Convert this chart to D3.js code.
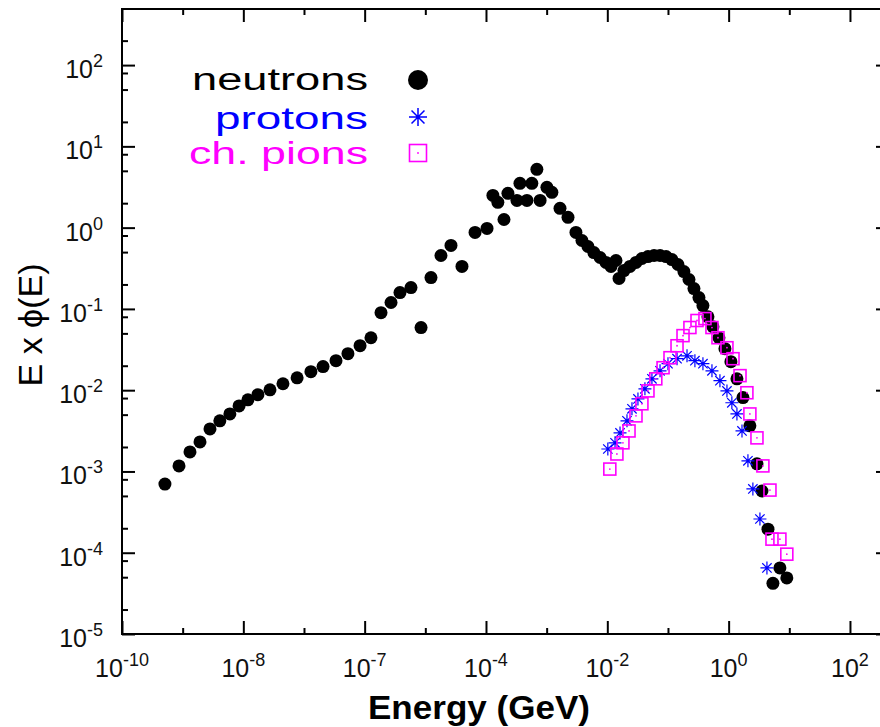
<!DOCTYPE html>
<html>
<head>
<meta charset="utf-8">
<script src="https://cdn.jsdelivr.net/npm/d3@7"></script>
<style>
body { margin: 0; background: #fff; }
svg text { font-family: "Liberation Sans", Arial, Helvetica, sans-serif; }
</style>
</head>
<body>
<svg id="chart" width="880" height="727"></svg>
<script>
// values: [energy in GeV, E x phi(E)]
var neutrons = [
  [5.1e-10,7.0e-4],[8.7e-10,1.17e-3],[1.32e-9,1.74e-3],[1.93e-9,2.31e-3],[2.82e-9,3.34e-3],
  [4.1e-9,4.2e-3],[6.0e-9,5.1e-3],[8.5e-9,6.4e-3],[1.19e-8,7.6e-3],[1.74e-8,8.8e-3],
  [2.75e-8,1.01e-2],[4.5e-8,1.20e-2],[7.7e-8,1.42e-2],[1.30e-7,1.69e-2],[2.06e-7,1.95e-2],
  [3.37e-7,2.31e-2],[5.3e-7,2.81e-2],[8.4e-7,3.53e-2],[1.27e-6,4.42e-2],[1.86e-6,9.0e-2],
  [2.72e-6,0.120],[3.82e-6,0.159],[5.8e-6,0.183],[8.5e-6,5.9e-2],[1.24e-5,0.243],
  [1.81e-5,0.454],[2.65e-5,0.604],[4.02e-5,0.333],[6.6e-5,0.873],[1.04e-4,0.977],
  [1.30e-4,2.49],[1.57e-4,2.05],[1.98e-4,1.26],[2.30e-4,2.64],[3.24e-4,2.16],
  [3.63e-4,3.51],[4.73e-4,2.16],[5.7e-4,3.51],[6.9e-4,5.22],[7.8e-4,2.16],
  [1.01e-3,3.13],[1.22e-3,2.72],[1.66e-3,1.73],[2.25e-3,1.34],[3.04e-3,0.873],
  [3.82e-3,0.695],[4.8e-3,0.586],[6.0e-3,0.494],[7.6e-3,0.429],[9.5e-3,0.373],
  [1.15e-2,0.333],[1.39e-2,0.394],[1.56e-2,0.237],[1.88e-2,0.296],[2.36e-2,0.333],
  [2.97e-2,0.373],[3.72e-2,0.417],[4.68e-2,0.441],[5.9e-2,0.454],[7.4e-2,0.454],
  [9.3e-2,0.441],[0.116,0.405],[0.146,0.352],[0.183,0.288],[0.222,0.230],
  [0.268,0.178],[0.324,0.138],[0.377,0.110],[0.456,8.0e-2],[0.551,6.05e-2],
  [0.692,4.42e-2],[0.869,3.24e-2],[1.09,2.24e-2],[1.37,1.38e-2],[1.72,8.1e-3],
  [2.24,3.64e-3],[2.93,1.24e-3],[3.54,5.75e-4],[4.45,1.95e-4],[5.37,4.2e-5],
  [7.0,6.5e-5],[9.1,4.9e-5]
];

var protons = [
  [1.02e-2,1.89e-3],[1.34e-2,2.25e-3],[1.62e-2,2.98e-3],[2.11e-2,4.2e-3],[2.55e-2,5.9e-3],
  [3.20e-2,7.8e-3],[4.17e-2,1.04e-2],[5.44e-2,1.38e-2],[7.4e-2,1.73e-2],[0.100,2.12e-2],
  [0.141,2.44e-2],[0.206,2.65e-2],[0.278,2.31e-2],[0.377,2.12e-2],[0.531,1.73e-2],
  [0.719,1.31e-2],[0.938,9.8e-3],[1.13,7.0e-3],[1.37,5.1e-3],[1.66,3.15e-3],
  [2.08,1.35e-3],[2.51,6.1e-4],[3.28,2.6e-4],[4.28,6.5e-5]
];

var pions = [
  [1.10e-2,1.07e-3],[1.44e-2,1.64e-3],[1.81e-2,2.25e-3],[2.28e-2,3.15e-3],[2.97e-2,4.83e-3],
  [3.72e-2,6.8e-3],[4.68e-2,9.8e-3],[6.3e-2,1.38e-2],[8.3e-2,1.89e-2],[0.108,2.51e-2],
  [0.141,3.52e-2],[0.177,4.69e-2],[0.230,5.9e-2],[0.301,7.2e-2],[0.407,7.6e-2],
  [0.531,5.9e-2],[0.667,4.42e-2],[0.938,3.33e-2],[1.18,2.44e-2],[1.54,1.51e-2],
  [2.00,9.3e-3],[2.24,5.1e-3],[2.93,2.59e-3],[3.67,1.17e-3],[4.80,5.9e-4],
  [5.18,1.47e-4],[7.0,1.47e-4],[9.1,9.6e-5]
];

// tick labels as printed (the third one really says 10^-7)
var xTickVals = [1e-10, 1e-8, 1e-6, 1e-4, 1e-2, 1, 1e2];
var xTickExp = ['-10', '-8', '-7', '-4', '-2', '0', '2'];
var yTickVals = [1e-5, 1e-4, 1e-3, 1e-2, 1e-1, 1, 10, 100];
var yTickExp = ['-5', '-4', '-3', '-2', '-1', '0', '1', '2'];

var legendNames = ['neutrons', 'protons', 'ch. pions'];
var legendColors = ['#000000', '#0000ff', '#ff00ff'];

// note: "top" is a read-only window global, so the frame edges get their own names
var svg = d3.select('#chart'),
  frameL = 122, frameR = 889, frameT = 9, frameB = 634;

var x = d3.scaleLog().domain([1e-10, 440]).range([frameL, frameR]);
var y = d3.scaleLog().domain([1e-5, 490]).range([frameB, frameT]);

// minor ticks: odd decades on x, 2/5/8 on y
var xMinor = d3.range(-9, 3, 2).map(function(e) { return Math.pow(10, e); });
var yMinor = [];
d3.range(-5, 3).forEach(function(e) {
  [2, 5, 8].forEach(function(m) {
    var v = m * Math.pow(10, e);
    if (v < y.domain()[1]) yMinor.push(v);
  });
});

var axes = svg.append('g').attr('class', 'axes');
function tickAxis(axis, vals, size, tr) {
  var g = axes.append('g')
    .attr('transform', tr)
    .call(axis.tickValues(vals).tickSizeInner(-size).tickSizeOuter(0).tickFormat(''));
  g.select('.domain').remove();
  g.selectAll('line').attr('stroke', '#000').attr('stroke-width', 2);
}
tickAxis(d3.axisBottom(x), xTickVals, 13, 'translate(0,' + frameB + ')');
tickAxis(d3.axisBottom(x), xMinor, 6, 'translate(0,' + frameB + ')');
tickAxis(d3.axisTop(x), xTickVals, 13, 'translate(0,' + frameT + ')');
tickAxis(d3.axisTop(x), xMinor, 6, 'translate(0,' + frameT + ')');
tickAxis(d3.axisLeft(y), yTickVals, 13, 'translate(' + frameL + ',0)');
tickAxis(d3.axisLeft(y), yMinor, 6, 'translate(' + frameL + ',0)');
tickAxis(d3.axisRight(y), yTickVals, 13, 'translate(' + frameR + ',0)');
tickAxis(d3.axisRight(y), yMinor, 6, 'translate(' + frameR + ',0)');

axes.append('rect')
  .attr('x', frameL).attr('y', frameT)
  .attr('width', frameR - frameL).attr('height', frameB - frameT)
  .attr('fill', 'none').attr('stroke', '#000').attr('stroke-width', 2);

// tick labels 10^n
function powLabel(sel, exps) {
  sel.append('tspan').text('10');
  sel.append('tspan').attr('dy', -11).attr('font-size', 18).text(function(d, i) { return exps[i]; });
}
svg.append('g').selectAll('text')
  .data(xTickVals).enter().append('text')
  .attr('x', function(d) { return x(d); })
  .attr('y', 677)
  .attr('text-anchor', 'middle')
  .attr('font-size', 25)
  .attr('fill', '#111')
  .call(powLabel, xTickExp);

svg.append('g').selectAll('text')
  .data(yTickVals).enter().append('text')
  .attr('x', 103)
  .attr('y', function(d) { return y(d) + 13; })
  .attr('text-anchor', 'end')
  .attr('font-size', 25)
  .attr('fill', '#111')
  .call(powLabel, yTickExp);

// axis titles
svg.append('text')
  .attr('x', 479).attr('y', 719)
  .attr('text-anchor', 'middle')
  .attr('font-size', 33).attr('font-weight', 'bold')
  .attr('textLength', 222).attr('lengthAdjust', 'spacingAndGlyphs')
  .text('Energy (GeV)');

svg.append('text')
  .attr('transform', 'translate(42,325) rotate(-90)')
  .attr('text-anchor', 'middle')
  .attr('font-size', 34)
  .text('E x \u03d5(E)');

// markers
function asterisk(g, r, color, w) {
  var d = 'M' + -r + ',0H' + r + 'M0,' + -r + 'V' + r;
  var k = r * 0.72;
  d += 'M' + -k + ',' + -k + 'L' + k + ',' + k + 'M' + -k + ',' + k + 'L' + k + ',' + -k;
  g.append('path').attr('d', d).attr('stroke', color).attr('stroke-width', w).attr('fill', 'none');
}
function square(g, s, color) {
  g.append('rect').attr('x', -s / 2).attr('y', -s / 2).attr('width', s).attr('height', s)
    .attr('fill', 'none').attr('stroke', color).attr('stroke-width', 1.6);
  g.append('circle').attr('r', 0.9).attr('fill', color);
}

var plot = svg.append('g');
plot.selectAll('circle.n')
  .data(neutrons).enter().append('circle')
  .attr('class', 'n')
  .attr('cx', function(d) { return x(d[0]); })
  .attr('cy', function(d) { return y(d[1]); })
  .attr('r', 6.5)
  .attr('fill', legendColors[0]);

plot.selectAll('g.p')
  .data(protons).enter().append('g')
  .attr('class', 'p')
  .attr('transform', function(d) { return 'translate(' + x(d[0]) + ',' + y(d[1]) + ')'; })
  .each(function() { asterisk(d3.select(this), 6.5, legendColors[1], 1.2); });

plot.selectAll('g.pi')
  .data(pions).enter().append('g')
  .attr('class', 'pi')
  .attr('transform', function(d) { return 'translate(' + x(d[0]) + ',' + y(d[1]) + ')'; })
  .each(function() { square(d3.select(this), 12, legendColors[2]); });

// legend
var legY = [90, 129, 164], legW = [176, 153, 179];
var leg = svg.append('g');
leg.selectAll('text')
  .data(legendNames).enter().append('text')
  .attr('x', 368)
  .attr('y', function(d, i) { return legY[i]; })
  .attr('text-anchor', 'end')
  .attr('font-size', 31)
  .attr('fill', function(d, i) { return legendColors[i]; })
  .attr('textLength', function(d, i) { return legW[i]; })
  .attr('lengthAdjust', 'spacingAndGlyphs')
  .text(function(d) { return d; });

leg.append('circle').attr('cx', 418).attr('cy', 80).attr('r', 10).attr('fill', legendColors[0]);
asterisk(leg.append('g').attr('transform', 'translate(418,117)'), 9, legendColors[1], 1.5);
square(leg.append('g').attr('transform', 'translate(418,153)'), 17, legendColors[2]);
</script>
</body>
</html>
